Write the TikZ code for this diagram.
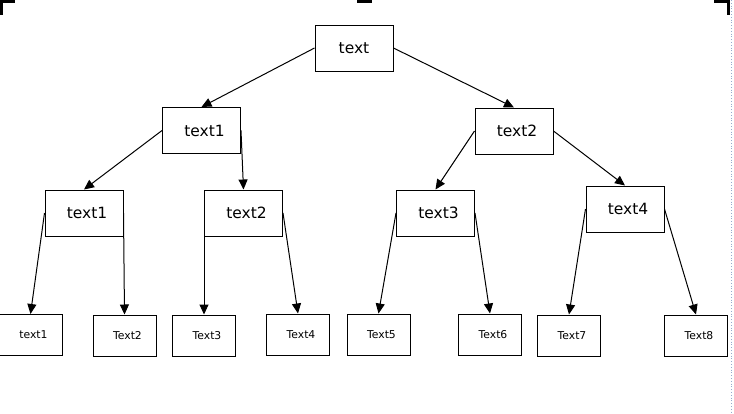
\documentclass[tikz,border=0pt]{standalone}
\usepackage{fontspec}
\setmainfont{DejaVu Sans}
\usepackage{tikz}
\usetikzlibrary{arrows.meta}
\definecolor{black}{RGB}{0,0,0}
\definecolor{margin}{RGB}{150,170,205}
\tikzset{
	box/.style={draw=black,line width=1pt,minimum width=78pt,minimum height=46pt,inner sep=0pt,font=\fontsize{15.5}{18}\selectfont},
	boxr/.style={box,execute at begin node=\hspace*{6pt}},
	leaf/.style={draw=black,line width=1pt,minimum width=63pt,minimum height=41pt,inner sep=0pt,font=\fontsize{10.8}{12}\selectfont,execute at begin node=\hspace*{6pt}},
	link/.style={black,line width=1pt,-{Triangle[length=10pt,width=9pt]}}
}

\begin{document}
\begin{tikzpicture}[x=1pt,y=-1pt]
	\useasboundingbox (0,0) rectangle (734,413);
	\fill[black] (0,0) rectangle (15,3);
	\fill[black] (0,0) rectangle (3,15);
	\fill[black] (357,0) rectangle (372,3);
	\fill[black] (714,0) rectangle (730,3);
	\fill[black] (727,0) rectangle (730,15);
	\draw[margin,dotted,line width=0.8pt] (731,0) -- (731,413);

	\node[box] (root) at (354,48) {text};
	\node[boxr] (a) at (201.5,130.5) {text1};
	\node[boxr] (b) at (514,131) {text2};
	\node[boxr] (a1) at (84,213) {text1};
	\node[boxr] (a2) at (243.5,213) {text2};
	\node[boxr] (b1) at (435.5,213) {text3};
	\node[boxr] (b2) at (625,209) {text4};
	\node[leaf] (l1) at (30.5,335) {text1};
	\node[leaf] (l2) at (124.5,335.5) {Text2};
	\node[leaf] (l3) at (204,335.5) {Text3};
	\node[leaf] (l4) at (298,334.5) {Text4};
	\node[leaf] (l5) at (378.5,334.5) {Text5};
	\node[leaf] (l6) at (490,334.5) {Text6};
	\node[leaf] (l7) at (569,335.5) {Text7};
	\node[leaf] (l8) at (696,335.5) {Text8};

	\foreach \x/\y in {root.west/a,root.east/b,a.west/a1,a.east/a2,b.west/b1,b.east/b2,a1.west/l1,a1.east/l2,a2.west/l3,a2.east/l4,b1.west/l5,b1.east/l6,b2.west/l7,b2.east/l8}
		\draw[link] (\x) -- (\y.north);
\end{tikzpicture}
\end{document}
